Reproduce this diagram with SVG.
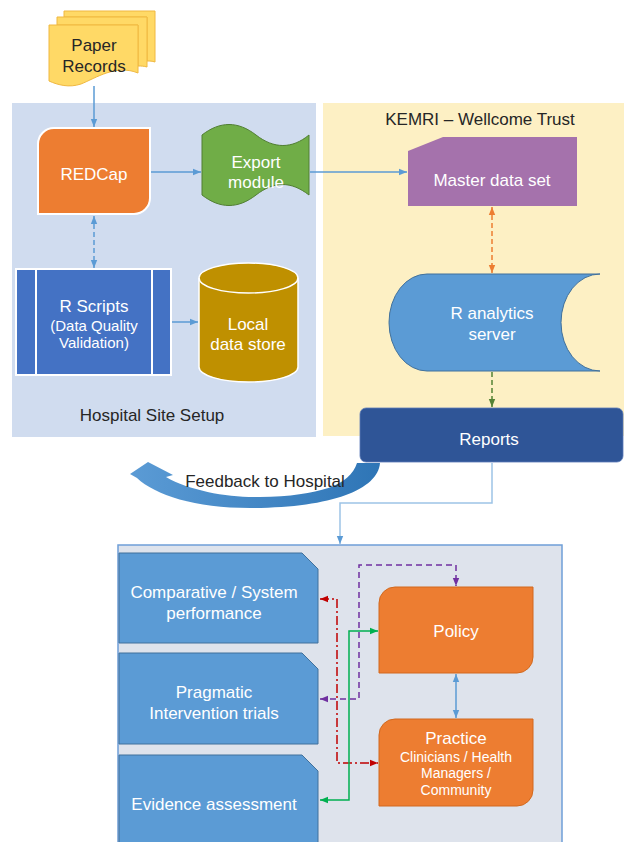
<svg xmlns="http://www.w3.org/2000/svg" width="624" height="842" viewBox="0 0 624 842">
<defs>
<style>
text{font-family:"Liberation Sans",Arial,sans-serif;text-anchor:middle}
.w{fill:#ffffff}
.d{fill:#262626}
.f17{font-size:17px}
.f15{font-size:15px}
.f14{font-size:14px}
.ln{fill:none;stroke-width:1.5}
</style>
<marker id="mBlue" viewBox="0 0 10 10" refX="10" refY="5" markerWidth="8" markerHeight="8" markerUnits="userSpaceOnUse" orient="auto-start-reverse"><path d="M0,1 L10,5 L0,9 Z" fill="#5b9bd5"/></marker>
<marker id="mOrange" viewBox="0 0 10 10" refX="10" refY="5" markerWidth="8" markerHeight="8" markerUnits="userSpaceOnUse" orient="auto-start-reverse"><path d="M0,1 L10,5 L0,9 Z" fill="#ed7d31"/></marker>
<marker id="mGreenD" viewBox="0 0 10 10" refX="10" refY="5" markerWidth="8" markerHeight="8" markerUnits="userSpaceOnUse" orient="auto-start-reverse"><path d="M0,1 L10,5 L0,9 Z" fill="#548235"/></marker>
<marker id="mPurple" viewBox="0 0 10 10" refX="10" refY="5" markerWidth="8" markerHeight="8" markerUnits="userSpaceOnUse" orient="auto-start-reverse"><path d="M0,1 L10,5 L0,9 Z" fill="#7030a0"/></marker>
<marker id="mRed" viewBox="0 0 10 10" refX="10" refY="5" markerWidth="8" markerHeight="8" markerUnits="userSpaceOnUse" orient="auto-start-reverse"><path d="M0,1 L10,5 L0,9 Z" fill="#c00000"/></marker>
<marker id="mGreen" viewBox="0 0 10 10" refX="10" refY="5" markerWidth="8" markerHeight="8" markerUnits="userSpaceOnUse" orient="auto-start-reverse"><path d="M0,1 L10,5 L0,9 Z" fill="#00b050"/></marker>
<linearGradient id="gFb" x1="0" y1="0" x2="1" y2="0">
<stop offset="0" stop-color="#5b9bd5"/>
<stop offset="1" stop-color="#2e75b6"/>
</linearGradient>
</defs>

<rect width="624" height="842" fill="#ffffff"/>

<g id="hospital-panel">
<rect x="12" y="103" width="304" height="334" fill="#d0dcef"/>
<text class="d f17" x="152" y="421">Hospital Site Setup</text>
</g>
<g id="kemri-panel">
<rect x="323" y="103" width="301" height="333" fill="#fdf0c4"/>
<text class="d f17" x="480" y="125">KEMRI – Wellcome Trust</text>
</g>
<g id="outputs-panel">
<rect x="118" y="545" width="444" height="310" fill="#dee3ec" stroke="#6f9fd8" stroke-width="1.5"/>
</g>

<g id="paper-records">
<path d="M64,11 H155 V62 C152,61 150,61 147,61 V17 H64 Z" fill="#ffd966" stroke="#f0b840" stroke-width="1"/>
<path d="M57,17 H147 V67 C144,66 141,66 138,66 V25 H57 Z" fill="#ffd966" stroke="#f0b840" stroke-width="1"/>
<path d="M49,25 H138 V73 C116,64 96,78 81,84 C69,88 58,85 49,81 Z" fill="#ffd966" stroke="#f0b840" stroke-width="1"/>
<text class="d f17" x="94" y="51">Paper</text>
<text class="d f17" x="94" y="72">Records</text>
</g>

<g id="redcap">
<path d="M54,128 H150 V198 A16,16 0 0 1 134,214 H38 V144 A16,16 0 0 1 54,128 Z" fill="#ed7d31" stroke="#ffffff" stroke-width="2"/>
<text class="w f17" x="94" y="180">REDCap</text>
</g>

<g id="export-module">
<path d="M202,135 C220,121 238,121 256,135 C274,149 292,149 309,135 V195 C291,181 274,181 256,195 C238,209 220,209 202,195 Z" fill="#70ad47" stroke="#507e32" stroke-width="1"/>
<text class="w f17" x="256" y="168">Export</text>
<text class="w f17" x="256" y="188">module</text>
</g>

<g id="master-data-set">
<path d="M443,137 H577 V206 H408 V151 Z" fill="#a572ac"/>
<text class="w f17" x="492" y="186">Master data set</text>
</g>

<g id="r-scripts">
<rect x="16" y="269" width="155" height="106" fill="#4472c4" stroke="#ffffff" stroke-width="2"/>
<line x1="36" y1="269" x2="36" y2="375" stroke="#ffffff" stroke-width="2"/>
<line x1="152" y1="269" x2="152" y2="375" stroke="#ffffff" stroke-width="2"/>
<text class="w f17" x="94" y="312">R Scripts</text>
<text class="w f15" x="94" y="331">(Data Quality</text>
<text class="w f15" x="94" y="348">Validation)</text>
</g>

<g id="local-data-store">
<path d="M199,278 A49.5,15 0 0 1 298,278 V367 A49.5,15 0 0 1 199,367 Z" fill="#bf9000" stroke="#ffffff" stroke-width="1.5"/>
<path d="M199,278 A49.5,15 0 0 0 298,278" fill="none" stroke="#ffffff" stroke-width="1.5"/>
<text class="w f17" x="248" y="330">Local</text>
<text class="w f17" x="248" y="350">data store</text>
</g>

<g id="r-analytics-server">
<path d="M427,274 H600 A39,48.5 0 0 0 600,371 H427 A38,48.5 0 0 1 427,274 Z" fill="#5b9bd5" stroke="#41719c" stroke-width="1"/>
<text class="w f17" x="492" y="319">R analytics</text>
<text class="w f17" x="492" y="340">server</text>
</g>

<g id="reports">
<rect x="360" y="408" width="263" height="54" rx="6" fill="#2f5597" stroke="#5a7ab8" stroke-width="0.8"/>
<text class="w f17" x="489" y="445">Reports</text>
</g>

<g id="feedback">
<path d="M357,463 L380,463 C378,490 330,508 250,508 C195,508 155,495 137,478 L130,474 L148,462 L173,475 L166,477 C190,491 230,498 260,497 C320,496 350,485 357,463 Z" fill="url(#gFb)"/>
<text class="d f17" x="265" y="487">Feedback to Hospital</text>
</g>

<g id="comparative">
<path d="M119,553 H302 L318,569 V643 H119 Z" fill="#5b9bd5" stroke="#41719c" stroke-width="1"/>
<text class="w f17" x="214" y="598">Comparative / System</text>
<text class="w f17" x="214" y="619">performance</text>
</g>
<g id="pragmatic">
<path d="M119,653 H302 L318,669 V744 H119 Z" fill="#5b9bd5" stroke="#41719c" stroke-width="1"/>
<text class="w f17" x="214" y="698">Pragmatic</text>
<text class="w f17" x="214" y="719">Intervention trials</text>
</g>
<g id="evidence">
<path d="M119,755 H302 L318,771 V850 H119 Z" fill="#5b9bd5" stroke="#41719c" stroke-width="1"/>
<text class="w f17" x="214" y="810">Evidence assessment</text>
</g>

<g id="policy">
<path d="M395,587 H533 V657 A16,16 0 0 1 517,673 H379 V603 A16,16 0 0 1 395,587 Z" fill="#ed7d31" stroke="#d2691e" stroke-width="1"/>
<text class="w f17" x="456" y="637">Policy</text>
</g>
<g id="practice">
<path d="M395,719 H533 V790 A16,16 0 0 1 517,806 H379 V735 A16,16 0 0 1 395,719 Z" fill="#ed7d31" stroke="#d2691e" stroke-width="1"/>
<text class="w f17" x="456" y="744">Practice</text>
<text class="w f14" x="456" y="762">Clinicians / Health</text>
<text class="w f14" x="456" y="778">Managers /</text>
<text class="w f14" x="456" y="795">Community</text>
</g>

<g id="connectors">
<line class="ln" x1="94" y1="86" x2="94" y2="127" stroke="#5b9bd5" marker-end="url(#mBlue)"/>
<line class="ln" x1="151" y1="172" x2="201" y2="172" stroke="#5b9bd5" marker-end="url(#mBlue)"/>
<line class="ln" x1="310" y1="172" x2="407" y2="172" stroke="#5b9bd5" marker-end="url(#mBlue)"/>
<line class="ln" x1="94" y1="216" x2="94" y2="268" stroke="#5b9bd5" stroke-dasharray="5,3" marker-start="url(#mBlue)" marker-end="url(#mBlue)"/>
<line class="ln" x1="172" y1="322" x2="198" y2="322" stroke="#5b9bd5" marker-end="url(#mBlue)"/>
<line class="ln" x1="492" y1="207" x2="492" y2="273" stroke="#ed7d31" stroke-dasharray="5,3" marker-start="url(#mOrange)" marker-end="url(#mOrange)"/>
<line class="ln" x1="492" y1="372" x2="492" y2="407" stroke="#548235" stroke-dasharray="5,3" marker-end="url(#mGreenD)"/>
<polyline class="ln" points="492,463 492,503 340,503 340,544" stroke="#9dc3e6" marker-end="url(#mBlue)"/>
<line class="ln" x1="456" y1="674" x2="456" y2="718" stroke="#5b9bd5" marker-start="url(#mBlue)" marker-end="url(#mBlue)"/>
<path class="ln" d="M320,699 H359 V565 H456 V586" stroke="#7030a0" stroke-dasharray="6,4" marker-start="url(#mPurple)" marker-end="url(#mPurple)"/>
<path class="ln" d="M320,599 H337 V763 H378" stroke="#c00000" stroke-dasharray="9,3,2,3" marker-start="url(#mRed)" marker-end="url(#mRed)"/>
<path class="ln" d="M378,631 H349 V800 H320" stroke="#00b050" marker-start="url(#mGreen)" marker-end="url(#mGreen)"/>
</g>
</svg>
